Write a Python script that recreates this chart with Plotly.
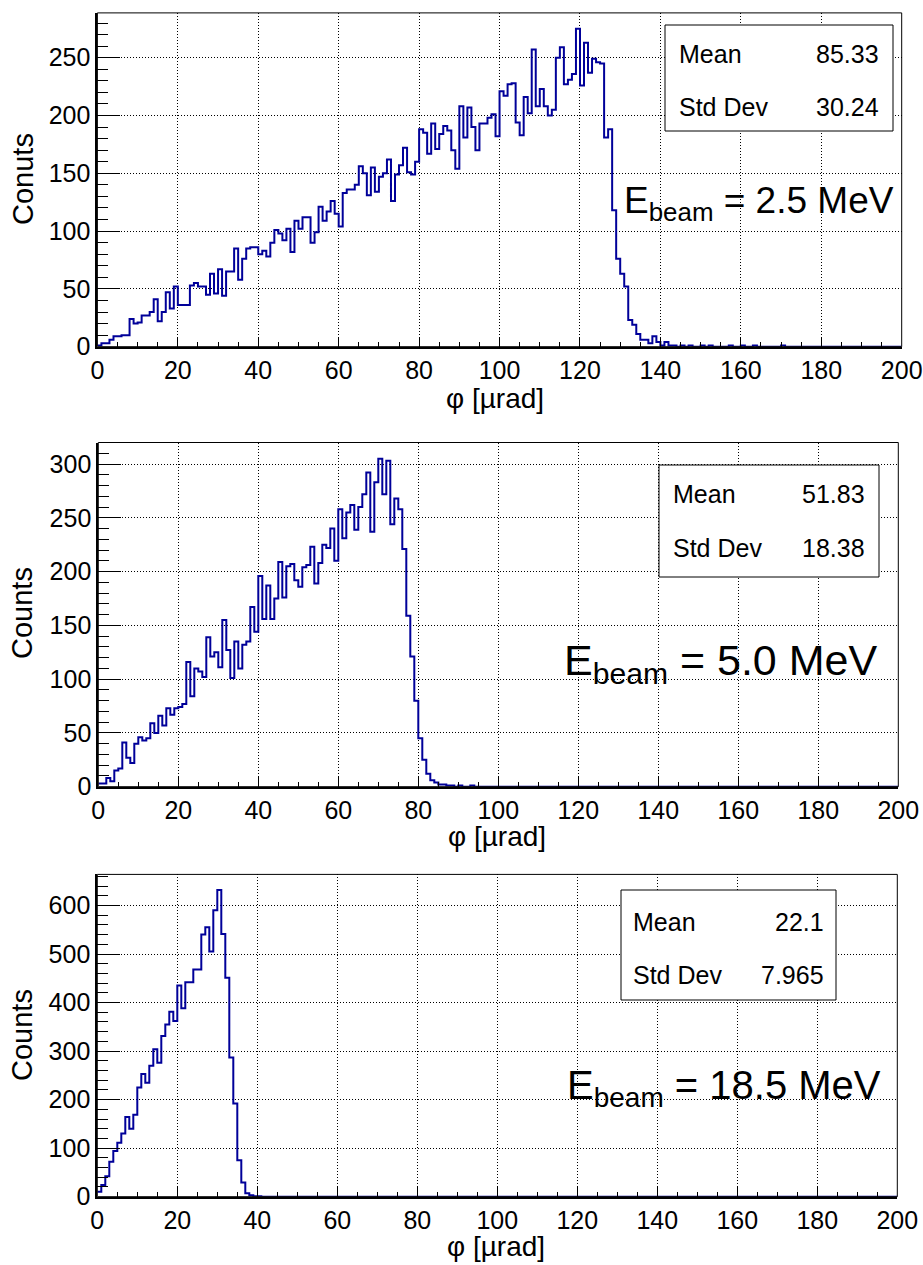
import numpy as np
import plotly.graph_objects as go

# ---------------- data (bin contents, 1 µrad bins from 0 to 200) ----------------
phi_edges = np.arange(0, 201, 1)

counts_2p5 = [
    1, 3, 3, 6, 9, 9, 10, 10, 24, 20,
    21, 27, 27, 30, 41, 22, 30, 47, 33, 52,
    36, 36, 36, 53, 55, 52, 52, 45, 63, 46,
    67, 44, 65, 65, 85, 58, 76, 85, 86, 86,
    80, 83, 78, 90, 101, 98, 92, 102, 82, 109,
    102, 112, 112, 90, 99, 121, 109, 117, 126, 115,
    104, 133, 136, 136, 140, 156, 150, 131, 155, 134,
    147, 150, 162, 126, 149, 157, 172, 151, 149, 160,
    188, 185, 167, 193, 171, 184, 191, 187, 170, 154,
    208, 181, 207, 190, 170, 193, 193, 198, 201, 182,
    221, 217, 227, 228, 194, 183, 216, 202, 257, 208,
    223, 208, 200, 205, 250, 259, 227, 231, 236, 275,
    226, 263, 237, 249, 246, 245, 181, 188, 118, 76,
    63, 52, 23, 19, 11, 6, 6, 3, 9, 4,
    1, 4, 1, 1, 0, 1, 0, 1, 0, 0,
    1, 0, 1, 0, 0, 0, 0, 1, 0, 0,
    1, 0, 0, 1, 0, 0, 0, 0, 0, 0,
    1, 0, 0, 0, 0, 0, 0, 0, 0, 0,
    0, 0, 0, 0, 0, 0, 0, 0, 0, 0,
    0, 0, 0, 0, 0, 0, 0, 0, 0, 0,
]

counts_5p0 = [
    3, 3, 8, 5, 15, 17, 41, 27, 22, 40,
    46, 43, 45, 59, 50, 66, 57, 73, 67, 73,
    74, 77, 116, 84, 110, 107, 102, 139, 121, 125,
    111, 155, 127, 101, 135, 110, 132, 135, 167, 144,
    196, 156, 187, 156, 175, 209, 176, 205, 207, 192,
    186, 204, 206, 223, 189, 208, 225, 222, 240, 210,
    258, 231, 255, 262, 239, 260, 272, 292, 237, 283,
    305, 272, 303, 244, 268, 258, 221, 159, 121, 80,
    45, 25, 12, 6, 4, 2, 2, 1, 1, 0,
    1, 0, 0, 1, 0, 0, 0, 0, 0, 0,
    0, 0, 0, 0, 0, 0, 0, 0, 0, 0,
    0, 0, 0, 0, 0, 0, 0, 0, 0, 0,
    0, 0, 0, 0, 0, 0, 0, 0, 0, 0,
    0, 0, 0, 0, 0, 0, 0, 0, 0, 0,
    0, 0, 0, 0, 0, 0, 0, 0, 0, 0,
    0, 0, 0, 0, 0, 0, 0, 0, 0, 0,
    0, 0, 0, 0, 0, 0, 0, 0, 0, 0,
    0, 0, 0, 0, 0, 0, 0, 0, 0, 0,
    0, 0, 0, 0, 0, 0, 0, 0, 0, 0,
    0, 0, 0, 0, 0, 0, 0, 0, 0, 0,
]

counts_18p5 = [
    10, 24, 42, 72, 94, 111, 130, 164, 140, 169,
    225, 253, 235, 270, 304, 276, 331, 355, 381, 362,
    435, 388, 442, 442, 468, 468, 540, 555, 505, 590,
    632, 541, 451, 287, 192, 75, 29, 7, 3, 1,
    1, 0, 0, 0, 0, 0, 0, 0, 0, 0,
    0, 0, 0, 0, 0, 0, 0, 0, 0, 0,
    0, 0, 0, 0, 0, 0, 0, 0, 0, 0,
    0, 0, 0, 0, 0, 0, 0, 0, 0, 0,
    0, 0, 0, 0, 0, 0, 0, 0, 0, 0,
    0, 0, 0, 0, 0, 0, 0, 0, 0, 0,
    0, 0, 0, 0, 0, 0, 0, 0, 0, 0,
    0, 0, 0, 0, 0, 0, 0, 0, 0, 0,
    0, 0, 0, 0, 0, 0, 0, 0, 0, 0,
    0, 0, 0, 0, 0, 0, 0, 0, 0, 0,
    0, 0, 0, 0, 0, 0, 0, 0, 0, 0,
    0, 0, 0, 0, 0, 0, 0, 0, 0, 0,
    0, 0, 0, 0, 0, 0, 0, 0, 0, 0,
    0, 0, 0, 0, 0, 0, 0, 0, 0, 0,
    0, 0, 0, 0, 0, 0, 0, 0, 0, 0,
    0, 0, 0, 0, 0, 0, 0, 0, 0, 0,
]

y_titles = ["Conuts", "Counts", "Counts"]
x_title = "φ [µrad]"
beam_labels = ["2.5 MeV", "5.0 MeV", "18.5 MeV"]
mean_values = ["85.33", "51.83", "22.1"]
std_values = ["30.24", "18.38", "7.965"]
y_max = [288.75, 320.0, 664.0]
y_dtick = [50, 50, 100]
y_minor = [10, 10, 20]

# ---------------- layout helpers (pixel -> paper) ----------------
W, H = 923, 1265
def px(x):
    return x / W
def py(y):
    return 1 - y / H

FONT = "Liberation Sans, Arial, sans-serif"
LINE = "#000099"

panels = [
    dict(x0=97.4, x1=901.7, y0=12.9, y1=346.7, counts=counts_2p5,
         box=(665, 25, 893, 131), mean_y=54, std_y=107, tx=677, vx=881,
         beam_right=896, beam_y=203, beam_size=37,
         ytitle=(23, 179), xtitle=(495, 399)),
    dict(x0=98.3, x1=898.3, y0=442.5, y1=786.7, counts=counts_5p0,
         box=(659, 465, 879, 577), mean_y=494, std_y=548, tx=671, vx=867,
         beam_right=879, beam_y=663, beam_size=43,
         ytitle=(22, 613), xtitle=(497, 836)),
    dict(x0=97.3, x1=897.3, y0=874.4, y1=1196.7, counts=counts_18p5,
         box=(621, 890, 836, 1000), mean_y=922, std_y=975, tx=631, vx=826,
         beam_right=883, beam_y=1088, beam_size=40,
         ytitle=(22, 1035), xtitle=(496, 1246)),
]

fig = go.Figure()
shapes = []
annotations = []

for k, p in enumerate(panels):
    xa = "x" if k == 0 else f"x{k+1}"
    ya = "y" if k == 0 else f"y{k+1}"
    xkey = "xaxis" if k == 0 else f"xaxis{k+1}"
    ykey = "yaxis" if k == 0 else f"yaxis{k+1}"

    yvals = list(p["counts"]) + [p["counts"][-1]]
    fig.add_trace(go.Scatter(
        x=phi_edges, y=yvals, mode="lines", line_shape="hv",
        line=dict(color=LINE, width=2), xaxis=xa, yaxis=ya,
        showlegend=False, hoverinfo="skip"))

    fig.layout[xkey] = dict(
        domain=[px(p["x0"]), px(p["x1"])], anchor=ya, range=[0, 200],
        automargin=False,
        showline=True, linecolor="black", linewidth=2,
        ticks="inside", ticklen=10, tickwidth=1, tickcolor="black",
        tick0=0, dtick=20,
        minor=dict(dtick=5, ticks="inside", ticklen=5, tickcolor="black",
                   tickwidth=1, showgrid=False),
        showgrid=True, gridcolor="black", gridwidth=1, griddash="1px,2px",
        zeroline=False, tickfont=dict(family=FONT, size=25, color="black"),
        fixedrange=True)
    fig.layout[ykey] = dict(
        domain=[py(p["y1"]), py(p["y0"])], anchor=xa, range=[0, y_max[k]],
        automargin=False,
        showline=True, linecolor="black", linewidth=2,
        ticks="inside", ticklen=23, tickwidth=1, tickcolor="black",
        tick0=0, dtick=y_dtick[k],
        minor=dict(dtick=y_minor[k], ticks="inside", ticklen=11, tickcolor="black",
                   tickwidth=1, showgrid=False),
        showgrid=True, gridcolor="black", gridwidth=1, griddash="1px,2px",
        zeroline=False, tickfont=dict(family=FONT, size=25, color="black"),
        fixedrange=True)

    # frame
    shapes.append(dict(type="rect", xref=f"{xa} domain", yref=f"{ya} domain",
                       x0=0, x1=1, y0=0, y1=1, line=dict(color="black", width=1),
                       fillcolor="rgba(0,0,0,0)", layer="above"))
    # stat box
    bx0, by0, bx1, by1 = p["box"]
    shapes.append(dict(type="rect", xref="paper", yref="paper",
                       x0=px(bx0), x1=px(bx1), y0=py(by1), y1=py(by0),
                       line=dict(color="black", width=1), fillcolor="white",
                       layer="above"))
    for lab, val, yy in (("Mean", mean_values[k], p["mean_y"]),
                         ("Std Dev", std_values[k], p["std_y"])):
        annotations.append(dict(xref="paper", yref="paper", x=px(p["tx"]), y=py(yy),
                                text=lab, showarrow=False, xanchor="left",
                                yanchor="middle",
                                font=dict(family=FONT, size=25, color="black")))
        annotations.append(dict(xref="paper", yref="paper", x=px(p["vx"]), y=py(yy),
                                text=val, showarrow=False, xanchor="right",
                                yanchor="middle",
                                font=dict(family=FONT, size=25, color="black")))
    # beam energy label
    annotations.append(dict(xref="paper", yref="paper", x=px(p["beam_right"]),
                            y=py(p["beam_y"]),
                            text=f"E<sub>beam</sub> = {beam_labels[k]}",
                            showarrow=False, xanchor="right", yanchor="middle",
                            font=dict(family=FONT, size=p["beam_size"], color="black")))
    # axis titles
    tx, ty = p["ytitle"]
    annotations.append(dict(xref="paper", yref="paper", x=px(tx), y=py(ty),
                            text=y_titles[k], textangle=-90, showarrow=False,
                            xanchor="center", yanchor="middle",
                            font=dict(family=FONT, size=29, color="black")))
    tx, ty = p["xtitle"]
    annotations.append(dict(xref="paper", yref="paper", x=px(tx), y=py(ty),
                            text=x_title, showarrow=False,
                            xanchor="center", yanchor="middle",
                            font=dict(family=FONT, size=28, color="black")))

fig.update_layout(
    width=W, height=H, margin=dict(l=0, r=0, t=0, b=0, autoexpand=False),
    paper_bgcolor="white", plot_bgcolor="white",
    showlegend=False, shapes=shapes, annotations=annotations,
    font=dict(family=FONT, color="black"))

fig.write_html("out.html")
